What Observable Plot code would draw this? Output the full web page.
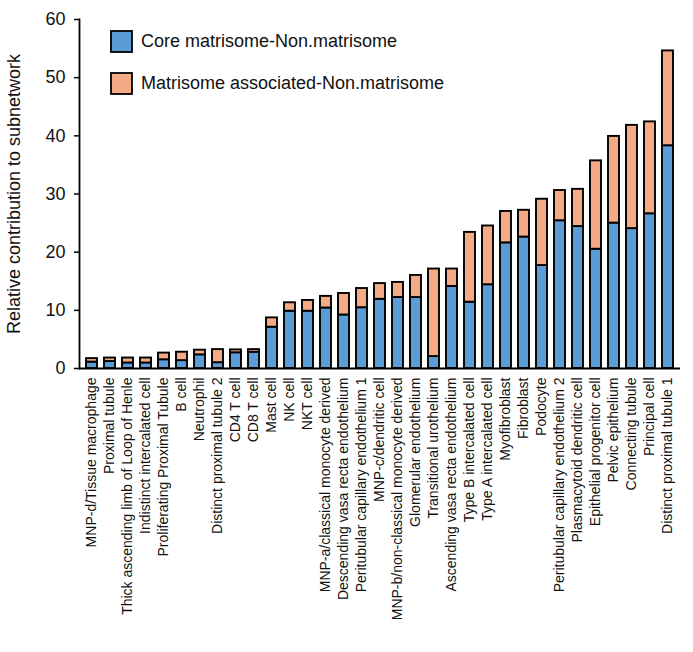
<!DOCTYPE html>
<html>
<head>
<meta charset="utf-8">
<script src="https://cdn.jsdelivr.net/npm/d3@7"></script>
<script src="https://cdn.jsdelivr.net/npm/@observablehq/plot@0.6"></script>
<style>
  html, body { margin: 0; padding: 0; background: #fff; }
  #chart svg { display: block; }
</style>
</head>
<body>
<div id="chart"></div>
<script>
const categories = [
  "MNP-d/Tissue macrophage",
  "Proximal tubule",
  "Thick ascending limb of Loop of Henle",
  "Indistinct intercalated cell",
  "Proliferating Proximal Tubule",
  "B cell",
  "Neutrophil",
  "Distinct proximal tubule 2",
  "CD4 T cell",
  "CD8 T cell",
  "Mast cell",
  "NK cell",
  "NKT cell",
  "MNP-a/classical monocyte derived",
  "Descending vasa recta endothelium",
  "Peritubular capillary endothelium 1",
  "MNP-c/dendritic cell",
  "MNP-b/non-classical monocyte derived",
  "Glomerular endothelium",
  "Transitional urothelium",
  "Ascending vasa recta endothelium",
  "Type B intercalated cell",
  "Type A intercalated cell",
  "Myofibroblast",
  "Fibroblast",
  "Podocyte",
  "Peritubular capillary endothelium 2",
  "Plasmacytoid dendritic cell",
  "Epithelial progenitor cell",
  "Pelvic epithelium",
  "Connecting tubule",
  "Principal cell",
  "Distinct proximal tubule 1"
];

const seriesNames = ["Core matrisome-Non.matrisome", "Matrisome associated-Non.matrisome"];

const coreValues = [1.1, 1.2, 0.95, 0.95, 1.5, 1.35, 2.35, 1.0, 2.7, 2.8,
  7.1, 9.85, 9.85, 10.4, 9.2, 10.45, 11.9, 12.2, 12.2, 2.05,
  14.1, 11.4, 14.4, 21.6, 22.6, 17.7, 25.4, 24.4, 20.5, 25.0,
  24.05, 26.6, 38.3];

const associatedValues = [0.6, 0.6, 0.85, 0.85, 1.15, 1.45, 0.8, 2.25, 0.5, 0.45,
  1.6, 1.45, 1.85, 2.0, 3.7, 3.3, 2.7, 2.6, 3.8, 15.05,
  3.0, 12.0, 10.1, 5.4, 4.6, 11.4, 5.2, 6.4, 15.2, 14.9,
  17.75, 15.8, 16.3];

const yTicks = [0, 10, 20, 30, 40, 50, 60];
const colors = ["#5b9bd6", "#f3aa85"];

const data = [];
categories.forEach((c, i) => {
  data.push({cat: c, series: seriesNames[0], value: coreValues[i]});
  data.push({cat: c, series: seriesNames[1], value: associatedValues[i]});
});

const font = "'Liberation Sans', Arial, Helvetica, sans-serif";

const chart = Plot.plot({
  width: 693,
  height: 652,
  marginTop: 19,
  marginBottom: 284,
  marginLeft: 79,
  marginRight: 13,
  style: {fontFamily: font, color: "#111", background: "#fff"},
  x: {domain: categories, paddingInner: 0.4, paddingOuter: 0.22, label: null},
  y: {domain: [0, 60], label: null},
  color: {domain: seriesNames, range: colors},
  marks: [
    Plot.barY(data, {x: "cat", y: "value", fill: "series", stroke: "#000", strokeWidth: 1.9, order: seriesNames}),
    Plot.axisY({ticks: yTicks, tickSize: 5, tickPadding: 9, fontSize: 18, stroke: "#000", strokeWidth: 1.5,
      label: "Relative contribution to subnetwork", labelAnchor: "center", labelArrow: "none", labelOffset: 72}),
    Plot.axisX({tickSize: 0, tickPadding: 9, tickRotate: -90, fontSize: 14, label: null}),
    Plot.frame({anchor: "left", stroke: "#000", strokeWidth: 1.8}),
    Plot.ruleY([0], {stroke: "#000", strokeWidth: 2})
  ]
});

document.getElementById("chart").appendChild(chart);

// legend inside the plot area
const svg = d3.select(chart);
const lg = svg.append("g").attr("font-family", font).attr("font-size", 18)
  .attr("fill", "#111").attr("text-anchor", "start");
seriesNames.forEach((name, i) => {
  const y0 = 31 + i * 42;
  lg.append("rect").attr("x", 111).attr("y", y0).attr("width", 21).attr("height", 21)
    .attr("fill", colors[i]).attr("stroke", "#000").attr("stroke-width", 1.8);
  lg.append("text").attr("x", 141).attr("y", y0 + 15.5).attr("text-anchor", "start").text(name);
});
</script>
</body>
</html>
